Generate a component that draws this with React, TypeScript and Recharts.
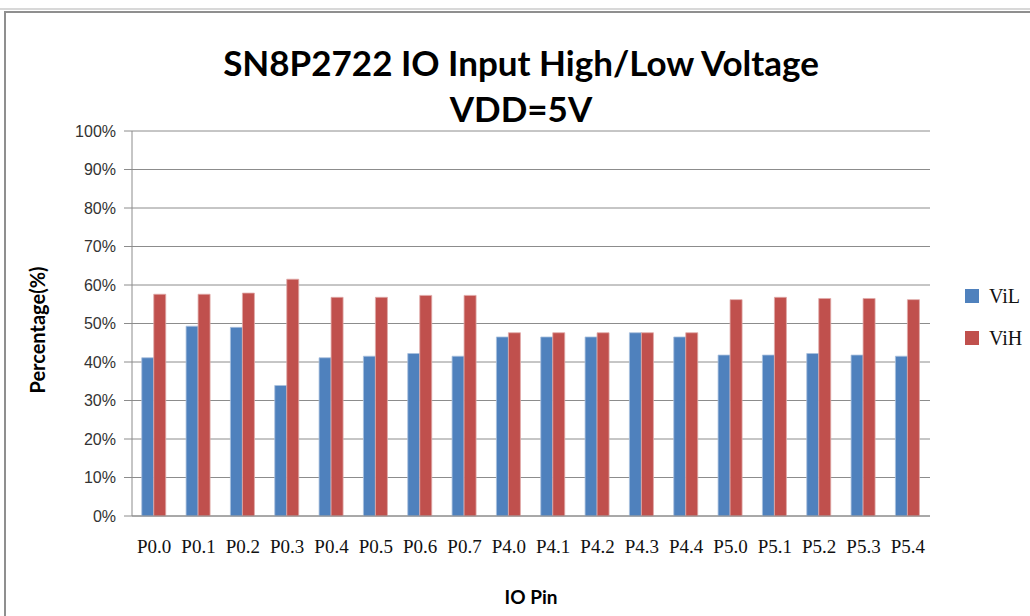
import { BarChart, Bar, XAxis, YAxis, CartesianGrid } from 'recharts';

const pins = [
  'P0.0', 'P0.1', 'P0.2', 'P0.3', 'P0.4', 'P0.5', 'P0.6', 'P0.7', 'P4.0',
  'P4.1', 'P4.2', 'P4.3', 'P4.4', 'P5.0', 'P5.1', 'P5.2', 'P5.3', 'P5.4',
];
const vil = [41.1, 49.3, 49.0, 33.9, 41.1, 41.5, 42.2, 41.5, 46.5, 46.5, 46.5, 47.6, 46.5, 41.8, 41.8, 42.2, 41.8, 41.5];
const vih = [57.6, 57.6, 57.9, 61.5, 56.8, 56.8, 57.3, 57.3, 47.6, 47.6, 47.6, 47.6, 47.6, 56.2, 56.8, 56.5, 56.5, 56.2];
const yTicks = [0, 10, 20, 30, 40, 50, 60, 70, 80, 90, 100];

const BLUE = '#4f81bd';
const RED = '#c0504d';
const GRID = '#8c8c8c';

export default function App() {
  const data = pins.map((pin, i) => ({ pin, vil: vil[i], vih: vih[i] }));

  return (
    <div style={{ position: 'absolute', left: 0, top: 0, width: 1030, height: 616, overflow: 'hidden', background: '#fff' }}>
      {/* sheet gridline + chart frame */}
      <div style={{ position: 'absolute', left: 0, top: 8, width: 1030, height: 2, background: '#d8d8d8' }} />
      <div style={{ position: 'absolute', left: 4, top: 11, width: 1040, height: 620, borderTop: '2px solid #8f8f8f', borderLeft: '2px solid #8f8f8f' }} />

      <div style={{ position: 'absolute', left: 0, top: 0 }}>
        <BarChart
          width={1030}
          height={616}
          data={data}
          margin={{ top: 131, right: 100, bottom: 60, left: 0 }}
          barCategoryGap="22%"
          barGap={0}
        >
          <CartesianGrid vertical={false} stroke={GRID} />
          <XAxis
            dataKey="pin"
            height={40}
            tickLine={false}
            tickSize={0}
            tickMargin={24}
            axisLine={{ stroke: GRID }}
            tick={{ fill: '#111', fontSize: 19, fontFamily: 'Liberation Serif' }}
            interval={0}
          />
          <YAxis
            width={132}
            domain={[0, 100]}
            ticks={yTicks}
            tickFormatter={(v: number) => `${v}%`}
            tickSize={8}
            tickMargin={8}
            axisLine={{ stroke: GRID }}
            tickLine={{ stroke: GRID }}
            tick={{ fill: '#333', fontSize: 16, fontFamily: 'Liberation Sans' }}
          />
          <Bar dataKey="vil" fill={BLUE} stroke="#a9c0dd" strokeWidth={0.8} isAnimationActive={false} />
          <Bar dataKey="vih" fill={RED} stroke="#e0a9a8" strokeWidth={0.8} isAnimationActive={false} />
        </BarChart>
      </div>

      <svg width={1030} height={616} style={{ position: 'absolute', left: 0, top: 0, pointerEvents: 'none' }}>
        <g fontFamily="Lato" fontWeight={700} fill="#000">
          <text x={521} y={76} fontSize={35} textAnchor="middle">SN8P2722 IO Input High/Low Voltage</text>
          <text x={521} y={122} fontSize={35} textAnchor="middle">VDD=5V</text>
          <text x={531} y={604} fontSize={19} textAnchor="middle">IO Pin</text>
          <text x={45} y={330} fontSize={20} textAnchor="middle" transform="rotate(-90 45 330)">Percentage(%)</text>
        </g>
        <rect x={965} y={289} width={14} height={14} fill={BLUE} />
        <rect x={965} y={331} width={14} height={14} fill={RED} />
        <g fontFamily="Liberation Serif" fontSize={20} fill="#111">
          <text x={989} y={303}>ViL</text>
          <text x={989} y={345}>ViH</text>
        </g>
      </svg>
    </div>
  );
}
